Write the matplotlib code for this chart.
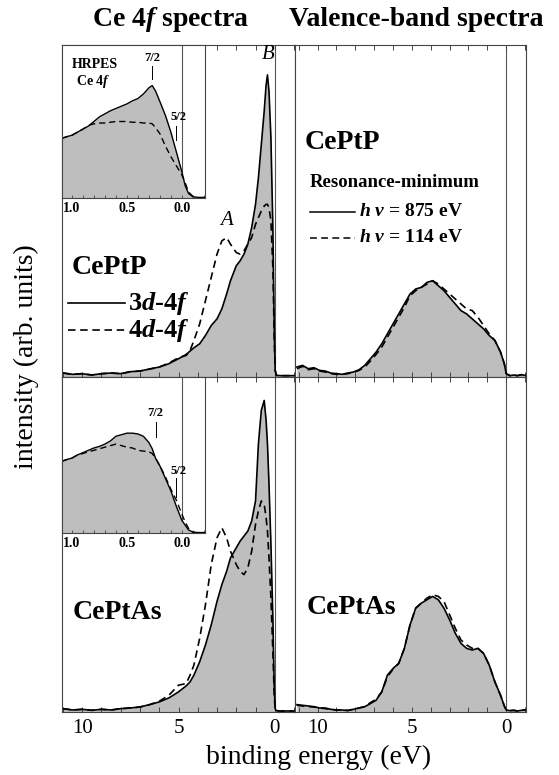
import numpy as np
import matplotlib
matplotlib.use("Agg")
import matplotlib.pyplot as plt
from matplotlib.ticker import MultipleLocator, FixedLocator

plt.rcParams['font.family'] = ['Liberation Serif', 'DejaVu Serif']
plt.rcParams['mathtext.fontset'] = 'custom'
plt.rcParams['mathtext.rm'] = 'Liberation Serif:bold'
plt.rcParams['mathtext.it'] = 'Liberation Serif:italic:bold'
plt.rcParams['mathtext.bf'] = 'Liberation Serif:bold'

# ---- Ce 4f spectra (binding energy, eV) ----
e4f = [11.0, 10.5, 10.0, 9.5, 9.0, 8.5, 8.0, 7.5, 7.0, 6.5, 6.0, 5.5, 5.0, 4.6, 4.4,
       4.2, 3.9, 3.6, 3.3, 3.0, 2.75, 2.5, 2.3, 2.0, 1.8, 1.6, 1.4, 1.2, 1.0, 0.85,
       0.7, 0.55, 0.45, 0.38, 0.3, 0.2, 0.1, 0.03, -0.02, -0.08, -0.3, -0.6, -1.0]
ceptp_3d4f = [0.012, 0.008, 0.010, 0.006, 0.010, 0.012, 0.010, 0.016, 0.018, 0.024,
              0.030, 0.040, 0.055, 0.068, 0.078, 0.088, 0.100, 0.125, 0.155, 0.175,
              0.205, 0.250, 0.290, 0.335, 0.350, 0.370, 0.400, 0.450, 0.520, 0.600,
              0.700, 0.800, 0.880, 0.910, 0.860, 0.720, 0.450, 0.150, 0.020, 0.005,
              0.004, 0.004, 0.004]
ceptp_4d4f = [0.012, 0.008, 0.010, 0.006, 0.010, 0.012, 0.010, 0.016, 0.018, 0.024,
              0.030, 0.042, 0.058, 0.065, 0.080, 0.110, 0.160, 0.230, 0.300, 0.370,
              0.410, 0.420, 0.400, 0.375, 0.370, 0.380, 0.400, 0.420, 0.460, 0.480,
              0.500, 0.515, 0.520, 0.520, 0.510, 0.470, 0.330, 0.120, 0.020, 0.005,
              0.004, 0.004, 0.004]
ceptas_3d4f = [0.010, 0.006, 0.008, 0.005, 0.008, 0.006, 0.010, 0.012, 0.015, 0.022,
               0.030, 0.042, 0.060, 0.078, 0.090, 0.110, 0.150, 0.200, 0.260, 0.330,
               0.380, 0.420, 0.460, 0.490, 0.510, 0.525, 0.540, 0.570, 0.630, 0.800,
               0.900, 0.930, 0.870, 0.800, 0.680, 0.500, 0.280, 0.080, 0.010, 0.004,
               0.003, 0.003, 0.003]
ceptas_4d4f = [0.010, 0.006, 0.008, 0.005, 0.008, 0.006, 0.010, 0.012, 0.015, 0.022,
               0.032, 0.050, 0.080, 0.085, 0.110, 0.140, 0.220, 0.320, 0.440, 0.520,
               0.550, 0.520, 0.480, 0.440, 0.420, 0.410, 0.430, 0.480, 0.560, 0.600,
               0.630, 0.620, 0.580, 0.540, 0.460, 0.340, 0.180, 0.050, 0.008, 0.003,
               0.003, 0.003, 0.003]

# ---- HRPES insets ----
e_hr = [1.09, 1.05, 1.0, 0.95, 0.9, 0.85, 0.8, 0.75, 0.7, 0.65, 0.6, 0.55, 0.5, 0.45,
        0.4, 0.35, 0.3, 0.27, 0.24, 0.2, 0.15, 0.1, 0.05, 0.0, -0.03, -0.06, -0.1,
        -0.15, -0.21]
hr_ceptp_3d = [0.39, 0.40, 0.41, 0.43, 0.45, 0.47, 0.50, 0.53, 0.55, 0.57, 0.585, 0.60,
               0.615, 0.635, 0.65, 0.68, 0.72, 0.735, 0.70, 0.63, 0.54, 0.43, 0.30,
               0.17, 0.08, 0.03, 0.008, 0.004, 0.004]
hr_ceptp_4d = [0.39, 0.40, 0.41, 0.43, 0.45, 0.475, 0.485, 0.49, 0.49, 0.495, 0.50, 0.50,
               0.50, 0.495, 0.495, 0.49, 0.49, 0.485, 0.46, 0.42, 0.34, 0.27, 0.21,
               0.15, 0.10, 0.04, 0.01, 0.0, 0.0]
hr_ceptas_3d = [0.46, 0.47, 0.48, 0.50, 0.515, 0.53, 0.545, 0.555, 0.57, 0.59, 0.62, 0.63,
                0.64, 0.64, 0.635, 0.62, 0.58, 0.54, 0.48, 0.43, 0.35, 0.27, 0.17,
                0.08, 0.05, 0.02, 0.005, 0.003, 0.003]
hr_ceptas_4d = [0.46, 0.47, 0.48, 0.50, 0.51, 0.52, 0.53, 0.54, 0.55, 0.56, 0.57, 0.56,
                0.55, 0.545, 0.53, 0.525, 0.52, 0.51, 0.48, 0.43, 0.36, 0.28, 0.21,
                0.12, 0.07, 0.03, 0.005, 0.0, 0.0]

# ---- valence-band spectra ----
e_vb = [11.1, 10.8, 10.5, 10.2, 9.9, 9.6, 9.3, 9.0, 8.7, 8.4, 8.1, 7.8, 7.5, 7.2, 6.9,
        6.6, 6.3, 6.0, 5.7, 5.4, 5.1, 4.8, 4.5, 4.2, 3.9, 3.6, 3.3, 3.0, 2.7, 2.4, 2.1,
        1.8, 1.5, 1.2, 0.9, 0.6, 0.3, 0.1, 0.0, -0.2, -0.4, -0.6, -0.8, -1.0]
vb_ceptp_875 = [0.030, 0.035, 0.025, 0.028, 0.020, 0.018, 0.012, 0.010, 0.008, 0.012,
                0.015, 0.022, 0.035, 0.055, 0.075, 0.100, 0.130, 0.160, 0.190, 0.220,
                0.250, 0.265, 0.270, 0.285, 0.290, 0.275, 0.260, 0.240, 0.220, 0.200,
                0.190, 0.175, 0.160, 0.145, 0.125, 0.110, 0.075, 0.040, 0.010, 0.004,
                0.006, 0.004, 0.007, 0.005]
vb_ceptp_114 = [0.025, 0.032, 0.022, 0.025, 0.018, 0.015, 0.010, 0.008, 0.008, 0.010,
                0.014, 0.020, 0.030, 0.048, 0.068, 0.090, 0.120, 0.150, 0.180, 0.210,
                0.245, 0.260, 0.270, 0.280, 0.290, 0.280, 0.265, 0.250, 0.235, 0.220,
                0.205, 0.200, 0.180, 0.155, 0.130, 0.110, 0.075, 0.040, 0.010, 0.004,
                0.006, 0.004, 0.007, 0.005]
vb_ceptas_875 = [0.022, 0.020, 0.018, 0.016, 0.012, 0.012, 0.008, 0.006, 0.006, 0.004,
                 0.008, 0.012, 0.016, 0.025, 0.035, 0.060, 0.110, 0.130, 0.145, 0.190,
                 0.260, 0.310, 0.325, 0.335, 0.345, 0.335, 0.310, 0.275, 0.235, 0.205,
                 0.190, 0.185, 0.190, 0.175, 0.140, 0.090, 0.050, 0.018, 0.006, 0.004,
                 0.005, 0.003, 0.005, 0.006]
vb_ceptas_114 = [0.020, 0.018, 0.016, 0.015, 0.012, 0.010, 0.008, 0.006, 0.006, 0.005,
                 0.008, 0.012, 0.016, 0.028, 0.038, 0.060, 0.105, 0.128, 0.145, 0.190,
                 0.260, 0.310, 0.325, 0.340, 0.350, 0.345, 0.330, 0.290, 0.250, 0.215,
                 0.200, 0.190, 0.190, 0.175, 0.140, 0.090, 0.050, 0.018, 0.006, 0.004,
                 0.005, 0.003, 0.005, 0.006]

W, H = 559, 775
fig = plt.figure(figsize=(W / 100, H / 100), dpi=100)


def px_axes(x0, y0, x1, y1):
    return fig.add_axes([x0 / W, 1 - y1 / H, (x1 - x0) / W, (y1 - y0) / H])


FILL = '#bebebe'
DASH = (0, (4.5, 2.8))
LW = 1.2


def spectrum(ax, x, solid, dashed, lw=LW):
    ax.fill_between(x, 0, solid, color=FILL, lw=0)
    ax.plot(x, dashed, color='k', lw=lw, ls=DASH)
    ax.plot(x, solid, color='k', lw=lw)


def frame(ax, xlim, bottom_labels):
    ax.set_xlim(*xlim)
    ax.set_ylim(0, 1)
    ax.set_yticks([])
    ax.xaxis.set_major_locator(FixedLocator([10, 5, 0]))
    ax.xaxis.set_minor_locator(MultipleLocator(1))
    ax.tick_params(axis='x', which='both', direction='in', top=True, bottom=True,
                   length=3.5, width=0.7, color='#444')
    ax.tick_params(axis='x', labelsize=15, pad=5)
    if bottom_labels:
        ax.set_xticklabels(['10', '5', '0'])
    else:
        ax.set_xticklabels([])
    for s in ax.spines.values():
        s.set_linewidth(0.8)
        s.set_color('#444')
    ax.axvline(0, color='#555', lw=0.8, zorder=0)


xl_4f = (11.05, -1.05)
xl_vb = (11.2, -1.05)

ax1 = px_axes(62, 45, 295, 377)
ax2 = px_axes(62, 377, 295, 712)
ax3 = px_axes(295, 45, 526, 377)
ax4 = px_axes(295, 377, 526, 712)

spectrum(ax1, e4f, ceptp_3d4f, ceptp_4d4f)
spectrum(ax2, e4f, ceptas_3d4f, ceptas_4d4f)
spectrum(ax3, e_vb, vb_ceptp_875, vb_ceptp_114)
spectrum(ax4, e_vb, vb_ceptas_875, vb_ceptas_114)
frame(ax1, xl_4f, False)
frame(ax2, xl_4f, True)
frame(ax3, xl_vb, False)
frame(ax4, xl_vb, True)

# annotations, Ce 4f panels
ax1.text(2.5, 0.47, 'A', fontsize=15, fontstyle='italic', ha='center', va='center')
ax1.text(0.36, 0.97, 'B', fontsize=15, fontstyle='italic', ha='center', va='center')
ax1.text(0.043, 0.33, 'CePtP', transform=ax1.transAxes, fontsize=20,
         fontweight='bold', va='center')
ax1.plot([0.026, 0.27], [0.222, 0.222], transform=ax1.transAxes, color='k', lw=LW)
ax1.plot([0.026, 0.27], [0.141, 0.141], transform=ax1.transAxes, color='k', lw=LW, ls=DASH)
ax1.text(0.285, 0.222, r'3$d$-4$f$', transform=ax1.transAxes, fontsize=19,
         fontweight='bold', va='center')
ax1.text(0.285, 0.141, r'4$d$-4$f$', transform=ax1.transAxes, fontsize=19,
         fontweight='bold', va='center')
ax2.text(0.047, 0.296, 'CePtAs', transform=ax2.transAxes, fontsize=20,
         fontweight='bold', va='center')

# annotations, valence-band panels
ax3.text(0.043, 0.705, 'CePtP', transform=ax3.transAxes, fontsize=20,
         fontweight='bold', va='center')
ax3.text(0.065, 0.587, 'Resonance-minimum', transform=ax3.transAxes, fontsize=13.5,
         fontweight='bold', va='center')
ax3.plot([0.065, 0.26], [0.497, 0.497], transform=ax3.transAxes, color='k', lw=1.1)
ax3.plot([0.065, 0.26], [0.419, 0.419], transform=ax3.transAxes, color='k', lw=1.1, ls=DASH)
ax3.text(0.275, 0.497, r'$h\ \nu$ = 875 eV', transform=ax3.transAxes, fontsize=14,
         fontweight='bold', va='center')
ax3.text(0.275, 0.419, r'$h\ \nu$ = 114 eV', transform=ax3.transAxes, fontsize=14,
         fontweight='bold', va='center')
ax4.text(0.052, 0.313, 'CePtAs', transform=ax4.transAxes, fontsize=20,
         fontweight='bold', va='center')

# HRPES insets
ins1 = px_axes(62, 45, 205, 198)
ins2 = px_axes(62, 377, 205, 533)
for ins, s3, s4 in [(ins1, hr_ceptp_3d, hr_ceptp_4d), (ins2, hr_ceptas_3d, hr_ceptas_4d)]:
    ins.set_facecolor('white')
    spectrum(ins, e_hr, s3, s4, lw=1.0)
    ins.set_xlim(1.09, -0.21)
    ins.set_ylim(0, 1)
    ins.set_yticks([])
    ins.xaxis.set_major_locator(FixedLocator([1.0, 0.5, 0.0]))
    ins.xaxis.set_minor_locator(MultipleLocator(0.1))
    ins.set_xticklabels(['1.0', '0.5', '0.0'], fontweight='bold')
    ins.tick_params(axis='x', which='both', direction='in', length=2.5, width=0.6,
                    color='#444', labelsize=10, pad=3)
    for s in ins.spines.values():
        s.set_linewidth(0.8)
        s.set_color('#444')
    ins.axvline(0, color='#555', lw=0.8, zorder=0)

ins1.text(0.07, 0.87, 'HRPES', transform=ins1.transAxes, fontsize=10,
          fontweight='bold', va='center')
ins1.text(0.10, 0.76, r'Ce 4$f$', transform=ins1.transAxes, fontsize=10,
          fontweight='bold', va='center')
ins1.text(0.27, 0.915, '7/2', fontsize=9, fontweight='bold', ha='center', va='center')
ins1.plot([0.27, 0.27], [0.86, 0.78], color='k', lw=0.7)
ins1.text(0.03, 0.53, '5/2', fontsize=9, fontweight='bold', ha='center', va='center')
ins1.plot([0.055, 0.055], [0.47, 0.38], color='k', lw=0.7)

ins2.text(0.24, 0.77, '7/2', fontsize=9, fontweight='bold', ha='center', va='center')
ins2.plot([0.24, 0.24], [0.71, 0.615], color='k', lw=0.7)
ins2.text(0.03, 0.40, '5/2', fontsize=9, fontweight='bold', ha='center', va='center')
ins2.plot([0.055, 0.055], [0.35, 0.23], color='k', lw=0.7)

# titles and axis labels
fig.text(171 / W, 1 - 20 / H, r'Ce 4$f$ spectra', fontsize=20, fontweight='bold',
         ha='center', va='center')
fig.text(416 / W, 1 - 19 / H, 'Valence-band spectra', fontsize=20, fontweight='bold',
         ha='center', va='center')
fig.text(319 / W, 1 - 757 / H, 'binding energy (eV)', fontsize=20,
         ha='center', va='center')
fig.text(26 / W, 1 - 357 / H, 'intensity (arb. units)', fontsize=20, rotation=90,
         ha='center', va='center')

fig.savefig('out.png', dpi=100)
